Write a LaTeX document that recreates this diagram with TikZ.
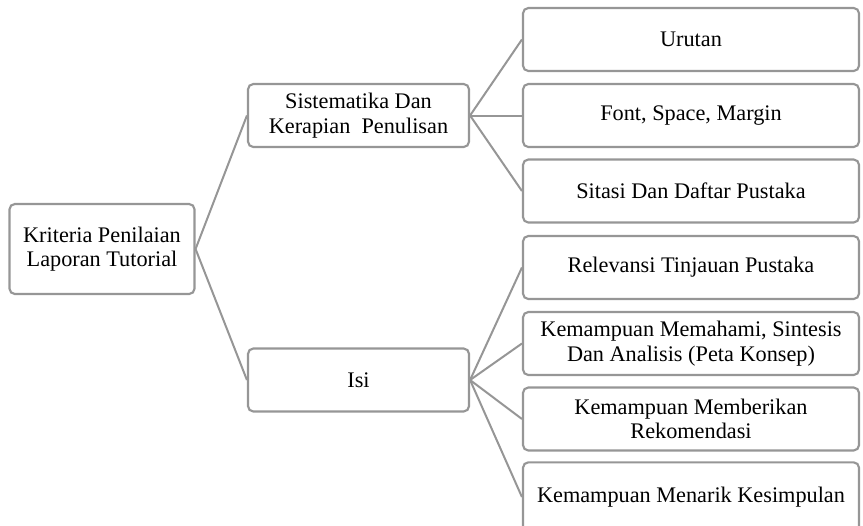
\documentclass[tikz,border=0pt]{standalone}
\usepackage{fontspec}
\setmainfont{Liberation Serif}
\definecolor{boxgray}{RGB}{150,150,150}
\tikzset{
  crit/.style={draw=boxgray,line width=1.6pt,rounded corners=4pt,fill=white,
    align=center,inner sep=0pt,font=\fontsize{16.7}{18.5}\selectfont},
  leaf/.style={crit,minimum width=252pt,minimum height=47.25pt},
  branch/.style={crit,minimum width=165.75pt,minimum height=47.25pt}
  ,link/.style={draw=boxgray,line width=1.5pt}
}
\begin{document}
\begin{tikzpicture}[x=0.75pt,y=-0.75pt]
  \useasboundingbox (0,0) rectangle (863,525);

    \node[crit,minimum width=138.75pt,minimum height=67.5pt] (root) at (102,249) {Kriteria Penilaian\\Laporan Tutorial};

    \node[branch] (sis) at (358.5,115.5) {Sistematika Dan\\Kerapian\ \ Penulisan};
    \node[branch] (isi) at (358.5,380) {Isi};

    \node[leaf] (urutan) at (691,39.5) {Urutan};
    \node[leaf] (font) at (691,115.5) {Font, Space, Margin};
    \node[leaf] (sitasi) at (691,191) {Sitasi Dan Daftar Pustaka};
    \node[leaf] (relev) at (691,267.5) {Relevansi Tinjauan Pustaka};
    \node[leaf] (paham) at (691,343.5) {Kemampuan Memahami, Sintesis\\Dan Analisis (Peta Konsep)};
    \node[leaf] (rekom) at (691,419) {Kemampuan Memberikan\\Rekomendasi};
    \node[leaf,minimum height=52pt] (simpul) at (691,497) {Kemampuan Menarik Kesimpulan};

  \draw[link] (root.east) -- (sis.west);
  \draw[link] (root.east) -- (isi.west);
  \foreach \t in {urutan,font,sitasi}
    \draw[link] (sis.east) -- (\t.west);
  \foreach \t in {relev,paham,rekom,simpul}
    \draw[link] (isi.east) -- (\t.west);
\end{tikzpicture}
\end{document}
